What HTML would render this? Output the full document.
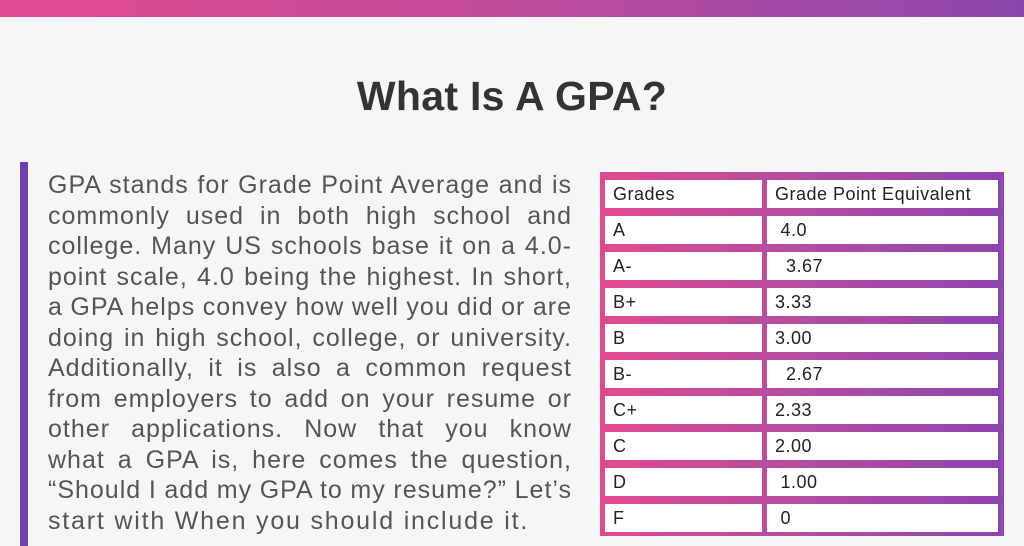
<!DOCTYPE html>
<html><head><meta charset="utf-8"><style>
body{margin:0;width:1024px;height:546px;background:#f6f6f6;position:relative;overflow:hidden;font-family:"Liberation Sans",sans-serif}
.top{position:absolute;left:0;top:0;width:1024px;height:17px;background:linear-gradient(90deg,#e0498e,#c04c9c 50%,#8a46ac)}
h1{position:absolute;left:0;width:1024px;top:70px;margin:0;text-align:center;font-size:41px;font-weight:bold;color:#333;line-height:52px;letter-spacing:0.3px}
.bar{position:absolute;left:20px;top:162px;width:8px;height:384px;background:#6a3fb0}
.p{position:absolute;left:48px;top:170px;width:524px;font-size:25px;color:#555;line-height:30.5px;letter-spacing:1px;word-spacing:-4px}
.p div{text-align:justify;text-align-last:justify;white-space:nowrap;height:30.5px;width:524px}
.p div.l{text-align-last:left;letter-spacing:1.8px;word-spacing:0}
.tbl{position:absolute;left:600px;top:172px;width:404px;height:364px;background:linear-gradient(90deg,#e0498e,#b44ca2 50%,#8e44ae)}
.c{position:absolute;background:#fff;font-size:18px;letter-spacing:0.5px;color:#222;line-height:28px;padding-left:8px;box-sizing:border-box;height:28px}
</style></head><body>
<div class="top"></div>
<h1>What Is A GPA?</h1>
<div class="bar"></div>
<div class="p">
<div>GPA stands for Grade Point Average and is</div>
<div>commonly used in both high school and</div>
<div>college. Many US schools base it on a 4.0-</div>
<div>point scale, 4.0 being the highest. In short,</div>
<div>a GPA helps convey how well you did or are</div>
<div>doing in high school, college, or university.</div>
<div>Additionally, it is also a common request</div>
<div>from employers to add on your resume or</div>
<div>other applications. Now that you know</div>
<div>what a GPA is, here comes the question,</div>
<div>“Should I add my GPA to my resume?” Let’s</div>
<div class="l">start with When you should include it.</div>
</div>
<div class="tbl"></div>
<div id="cells"></div>
<script>
var rows=[["Grades","Grade Point Equivalent"],["A"," 4.0"],["A-","  3.67"],["B+","3.33"],["B","3.00"],["B-","  2.67"],["C+","2.33"],["C","2.00"],["D"," 1.00"],["F"," 0"]];
var h="";
rows.forEach(function(r,i){var y=180+i*36;
h+='<div class="c" style="left:605px;top:'+y+'px;width:157px">'+r[0]+'</div>';
h+='<div class="c" style="left:767px;top:'+y+'px;width:231px;white-space:pre">'+r[1]+'</div>';});
document.getElementById("cells").innerHTML=h;
</script>
</body></html>
